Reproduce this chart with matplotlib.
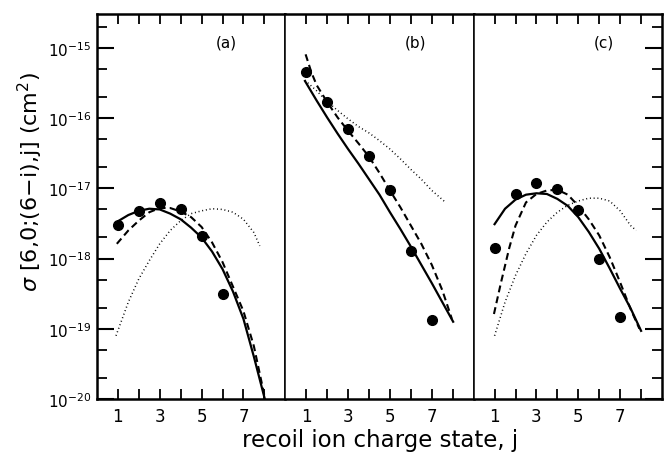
import numpy as np
import matplotlib
matplotlib.use("Agg")
import matplotlib.pyplot as plt
from matplotlib.ticker import FixedLocator, NullFormatter, LogFormatterSciNotation

plt.rcParams["lines.scale_dashes"] = False
plt.rcParams["font.family"] = "DejaVu Sans"

# measured cross sections, log10(sigma / cm^2), j = 1..7
j_pts = [1, 2, 3, 4, 5, 6, 7]
a_pts = [-17.52, -17.32, -17.21, -17.29, -17.68, -18.50]
b_pts = [-15.34, -15.765, -16.16, -16.54, -17.03, -17.89, -18.88]
c_pts = [-17.85, -17.08, -16.93, -17.01, -17.31, -18.01, -18.83]

# theory curves (j, log10 sigma)
a_solid_j = [1.05, 1.5, 2, 2.5, 3, 3.5, 4, 4.5, 5, 5.5, 6, 6.5, 7, 7.5, 8.02]
a_solid = [-17.46, -17.38, -17.32, -17.29, -17.30, -17.36, -17.44, -17.56,
           -17.70, -17.90, -18.15, -18.47, -18.86, -19.40, -20.0]
a_dash_j = [0.95, 1.5, 2, 2.5, 3, 3.5, 4, 4.5, 5, 5.5, 6, 6.5, 7, 7.5, 8.0]
a_dash = [-17.79, -17.60, -17.46, -17.34, -17.28, -17.28, -17.33, -17.41,
          -17.55, -17.77, -18.05, -18.40, -18.75, -19.25, -19.95]
a_dot_j = [0.91, 1.5, 2, 2.5, 3, 3.5, 4, 4.5, 5, 5.5, 6, 6.5, 7, 7.5, 7.78]
a_dot = [-19.10, -18.62, -18.29, -18.03, -17.79, -17.60, -17.46, -17.36,
         -17.32, -17.29, -17.30, -17.34, -17.44, -17.63, -17.82]

b_solid_j = [0.94, 1.5, 2, 2.5, 3, 3.5, 4, 4.5, 5, 5.5, 6, 6.5, 7, 7.5, 8.02]
b_solid = [-15.47, -15.75, -15.99, -16.22, -16.44, -16.65, -16.87, -17.09,
           -17.34, -17.58, -17.83, -18.09, -18.35, -18.62, -18.90]
b_dash_j = [0.97, 1.25, 1.5, 2, 2.5, 3, 3.5, 4, 4.5, 5, 5.5, 6, 6.5, 7, 7.5, 7.96]
b_dash = [-15.09, -15.35, -15.53, -15.77, -15.99, -16.18, -16.36, -16.55,
          -16.78, -17.03, -17.27, -17.53, -17.79, -18.09, -18.45, -18.86]
b_dot_j = [0.94, 1.5, 1.95, 2.5, 3, 3.5, 4, 4.5, 5, 5.5, 6, 6.5, 7, 7.66]
b_dot = [-15.46, -15.61, -15.75, -15.89, -16.01, -16.12, -16.21, -16.32,
         -16.44, -16.58, -16.73, -16.87, -17.03, -17.20]

c_solid_j = [1.0, 1.5, 2, 2.5, 3, 3.5, 4, 4.5, 5, 5.5, 6, 6.5, 7, 7.5, 8.0]
c_solid = [-17.51, -17.29, -17.16, -17.09, -17.07, -17.08, -17.15, -17.25,
           -17.41, -17.62, -17.86, -18.14, -18.43, -18.71, -19.03]
c_dash_j = [0.97, 1.3, 1.7, 2, 2.5, 3, 3.5, 4, 4.5, 5, 5.5, 6, 6.5, 7, 7.5, 7.92]
c_dash = [-18.79, -18.35, -17.85, -17.53, -17.20, -17.08, -17.03, -17.02,
          -17.09, -17.25, -17.44, -17.67, -17.98, -18.34, -18.72, -19.0]
c_dot_j = [1.0, 1.5, 2, 2.5, 3, 3.5, 4, 4.5, 5, 5.5, 6, 6.5, 7, 7.5, 7.77]
c_dot = [-19.10, -18.62, -18.24, -17.93, -17.67, -17.48, -17.34, -17.24,
         -17.18, -17.14, -17.14, -17.18, -17.32, -17.53, -17.60]

panel_names = ["(a)", "(b)", "(c)"]
x_ticklabels = ["1", "3", "5", "7"]
y_major = [1e-20, 1e-19, 1e-18, 1e-17, 1e-16, 1e-15]

panels = [
    (a_pts, a_solid_j, a_solid, a_dash_j, a_dash, a_dot_j, a_dot),
    (b_pts, b_solid_j, b_solid, b_dash_j, b_dash, b_dot_j, b_dot),
    (c_pts, c_solid_j, c_solid, c_dash_j, c_dash, c_dot_j, c_dot),
]

fig, axes = plt.subplots(1, 3, figsize=(6.64, 4.56), dpi=100, sharey=True)
fig.subplots_adjust(left=0.146, right=0.997, bottom=0.123, top=0.967, wspace=0)

y_minor = [m * v for v in y_major[:-1] for m in (2, 5)] + [2e-15]

for k, (ax, p) in enumerate(zip(axes, panels)):
    pts, sj, s, dj, d, oj, o = p
    ax.plot(sj, 10 ** np.array(s), color="black", lw=1.6)
    ax.plot(dj, 10 ** np.array(d), color="black", lw=1.5, linestyle=(0, (5, 3)))
    ax.plot(oj, 10 ** np.array(o), color="black", lw=1.1, linestyle=(0, (0.7, 2.0)))
    ax.plot(j_pts[:len(pts)], 10 ** np.array(pts), "o", color="black", ms=7)
    ax.set_yscale("log")
    ax.set_xlim(0, 9)
    ax.set_ylim(1e-20, 10 ** -14.516)
    ax.xaxis.set_major_locator(FixedLocator([1, 3, 5, 7]))
    ax.xaxis.set_minor_locator(FixedLocator([2, 4, 6, 8]))
    ax.set_xticklabels(x_ticklabels, fontsize=12)
    ax.tick_params(axis="x", which="both", direction="in", top=True,
                   length=7, width=1.3, pad=6)
    ax.text(6.2, 10 ** -14.91, panel_names[k], ha="center", va="center", fontsize=11)
    for side in ["top", "bottom"]:
        ax.spines[side].set_linewidth(1.8)
    ax.spines["left"].set_linewidth(1.8 if k == 0 else 1.1)
    ax.spines["right"].set_linewidth(1.8 if k == 2 else 1.1)

axes[0].yaxis.set_major_locator(FixedLocator(y_major))
axes[0].yaxis.set_major_formatter(LogFormatterSciNotation())
axes[0].yaxis.set_minor_locator(FixedLocator(y_minor))
axes[0].yaxis.set_minor_formatter(NullFormatter())
for k, ax in enumerate(axes):
    ax.tick_params(axis="y", which="major", direction="in", length=12, width=1.5,
                   left=(k == 0), right=(k == 2), labelleft=(k == 0),
                   labelright=False, labelsize=11, pad=4)
    ax.tick_params(axis="y", which="minor", direction="in", length=7, width=1.3,
                   left=(k == 0), right=(k == 2))

fig.text(0.046, 0.60, r"$\sigma$ [6,0;(6$-$i),j] (cm$^2$)", rotation=90,
         ha="center", va="center", fontsize=16)
fig.text(0.573, 0.035, "recoil ion charge state, j", ha="center", va="center",
         fontsize=16.5)

fig.savefig("out.png", dpi=100)
